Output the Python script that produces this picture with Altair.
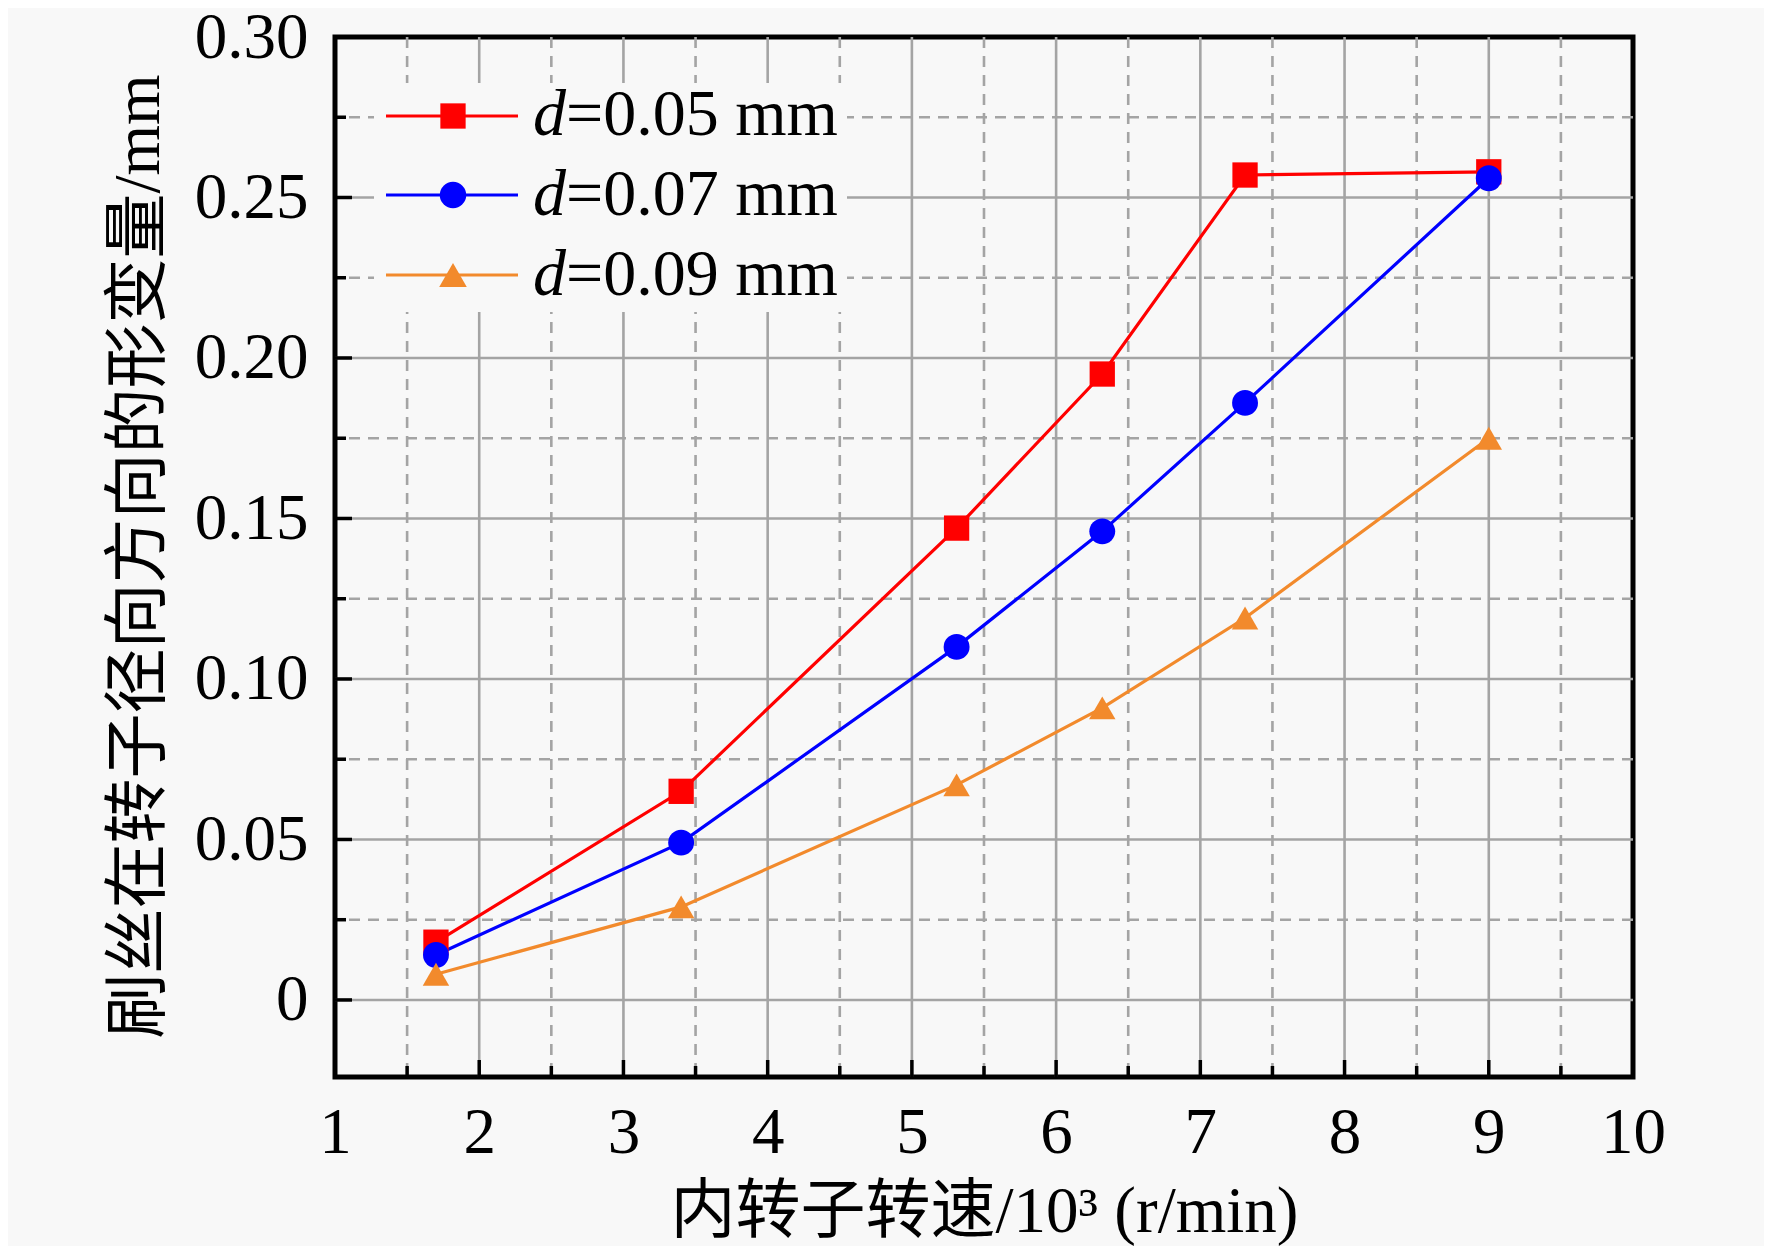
import altair as alt
import pandas as pd

# ---------------- data ----------------
speed = [1.70, 3.40, 5.31, 6.32, 7.31, 9.00]          # 10^3 r/min
d005 = [0.018, 0.065, 0.147, 0.195, 0.257, 0.258]     # d = 0.05 mm
d007 = [0.014, 0.049, 0.110, 0.146, 0.186, 0.256]     # d = 0.07 mm
d009 = [0.008, 0.029, 0.067, 0.091, 0.119, 0.175]     # d = 0.09 mm

series_names = ["d=0.05 mm", "d=0.07 mm", "d=0.09 mm"]
legend_rest = ["=0.05 mm", "=0.07 mm", "=0.09 mm"]
colors = ["#FF0000", "#0000FF", "#F28A2C"]
shapes = ["square", "circle", "triangle-up"]
sizes = [640, 700, 760]

x_major = [1, 2, 3, 4, 5, 6, 7, 8, 9, 10]
x_minor = [1.5, 2.5, 3.5, 4.5, 5.5, 6.5, 7.5, 8.5, 9.5]
y_major = [0, 0.05, 0.10, 0.15, 0.20, 0.25, 0.30]
y_minor = [0.025, 0.075, 0.125, 0.175, 0.225, 0.275]
x_grid = [2, 3, 4, 5, 6, 7, 8, 9]
y_grid = [0, 0.05, 0.10, 0.15, 0.20, 0.25]

x_title = "内转子转速/10³ (r/min)"
y_title = "刷丝在转子径向方向的形变量/mm"

# ---------------- styling ----------------
W, H = 1298, 1040
BG = "#F8F8F8"
FONT = "Liberation Serif, Noto Sans CJK SC"
GRID = "#A4A4A4"

xs = alt.Scale(domain=[1, 10], nice=False, zero=False)
ys = alt.Scale(domain=[-0.024, 0.30], nice=False, zero=False)

rows = []
for name, vals in zip(series_names, [d005, d007, d009]):
    for s, v in zip(speed, vals):
        rows.append({"speed": s, "val": v, "series": name})
df = pd.DataFrame(rows)

cscale = alt.Scale(domain=series_names, range=colors)
sscale = alt.Scale(domain=series_names, range=shapes)
zscale = alt.Scale(domain=series_names, range=sizes)

x_axis = alt.Axis(values=x_major, labelFont=FONT, labelFontSize=65, labelColor="black",
                  domain=False, ticks=False, grid=False, labelPadding=24,
                  labelFlush=False, labelOverlap=False,
                  title=x_title, titleFont=FONT, titleFontSize=65, titleFontWeight="normal",
                  titleColor="black", titleX=W / 2, titleY=154, titleAlign="center",
                  titleBaseline="alphabetic")
y_axis = alt.Axis(values=y_major, labelFont=FONT, labelFontSize=65, labelColor="black",
                  labelExpr="datum.value == 0 ? '0' : format(datum.value, '.2f')",
                  domain=False, ticks=False, grid=False, labelPadding=27,
                  labelFlush=False, labelOverlap=False,
                  title=y_title, titleFont=FONT, titleFontSize=65, titleFontWeight="normal",
                  titleColor="black", titleAngle=270, titleX=-177, titleY=519,
                  titleAlign="center", titleBaseline="alphabetic")


def X(field):
    return alt.X(field, scale=xs, axis=x_axis)


def Y(field):
    return alt.Y(field, scale=ys, axis=y_axis)


def vlines(vals, dash=None, width=2.6):
    kw = dict(color=GRID, strokeWidth=width)
    if dash:
        kw["strokeDash"] = dash
    return alt.Chart(pd.DataFrame({"v": vals})).mark_rule(**kw).encode(x=X("v:Q"))


def hlines(vals, dash=None, width=2.6):
    kw = dict(color=GRID, strokeWidth=width)
    if dash:
        kw["strokeDash"] = dash
    return alt.Chart(pd.DataFrame({"v": vals})).mark_rule(**kw).encode(y=Y("v:Q"))


def xticks(vals, length):
    return alt.Chart(pd.DataFrame({"v": vals})).mark_rule(color="black", strokeWidth=3.5).encode(
        x=X("v:Q"), y=alt.value(H), y2=alt.value(H - length))


def yticks(vals, length):
    return alt.Chart(pd.DataFrame({"v": vals})).mark_rule(color="black", strokeWidth=3.5).encode(
        y=Y("v:Q"), x=alt.value(0), x2=alt.value(length))


layers = [
    vlines(x_minor, dash=[11, 8]),
    hlines(y_minor, dash=[11, 8]),
    vlines(x_grid),
    hlines(y_grid),
    xticks(x_major[1:-1], 17),
    xticks(x_minor, 11),
    yticks(y_major, 17),
    yticks(y_minor, 11),
]

# legend background (covers grid)
one = pd.DataFrame({"k": [0]})
layers.append(alt.Chart(one).mark_rect(color=BG).encode(
    x=alt.value(39), x2=alt.value(512), y=alt.value(46), y2=alt.value(275)))

# data lines and markers
base = alt.Chart(df)
lines = base.mark_line(strokeWidth=3.2).encode(
    x=X("speed:Q"),
    y=Y("val:Q"),
    color=alt.Color("series:N", scale=cscale, legend=None),
    order="speed:Q",
)
points = base.mark_point(filled=True, opacity=1).encode(
    x=X("speed:Q"),
    y=Y("val:Q"),
    color=alt.Color("series:N", scale=cscale, legend=None),
    shape=alt.Shape("series:N", scale=sscale, legend=None),
    size=alt.Size("series:N", scale=zscale, legend=None),
)
layers += [lines, points]

# manual legend
row_y = [79, 158, 238]
row_base = [98, 178, 258]
for i, name in enumerate(series_names):
    ld = pd.DataFrame({"label": [legend_rest[i]]})
    c = alt.Chart(ld)
    layers.append(c.mark_rule(color=colors[i], strokeWidth=3.2).encode(
        x=alt.value(51), x2=alt.value(183), y=alt.value(row_y[i])))
    layers.append(c.mark_point(filled=True, opacity=1, color=colors[i]).encode(
        x=alt.value(118), y=alt.value(row_y[i]),
        shape=alt.value(shapes[i]), size=alt.value(sizes[i])))
    layers.append(c.mark_text(font="Liberation Serif", fontSize=66, fontStyle="italic",
                              align="left", baseline="alphabetic", color="black").encode(
        x=alt.value(198), y=alt.value(row_base[i]), text=alt.value("d")))
    layers.append(c.mark_text(font="Liberation Serif", fontSize=66,
                              align="left", baseline="alphabetic", color="black").encode(
        x=alt.value(231), y=alt.value(row_base[i]), text="label:N"))

chart = alt.layer(*layers).properties(
    width=W, height=H,
    autosize=alt.AutoSizeParams(type="none"),
    padding={"left": 327, "top": 29, "right": 131, "bottom": 169},
    background=BG,
).configure_view(
    stroke="black", strokeWidth=5, fill=BG
)

chart.save("out.html", embed_options={"renderer": "svg", "actions": False})
